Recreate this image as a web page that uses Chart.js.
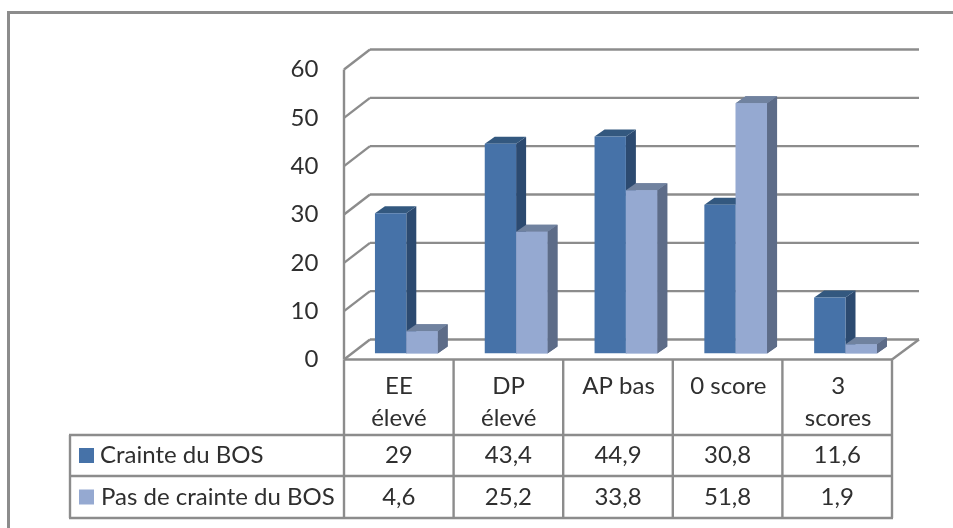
<!DOCTYPE html>
<html><head><meta charset="utf-8">
<style>html,body{margin:0;padding:0;background:#fff}canvas{display:block}</style>
<script src="https://cdn.jsdelivr.net/npm/chart.js@4"></script>
</head><body>
<canvas id="c" width="953" height="528"></canvas>
<script>
const categories = [["EE","élevé"],["DP","élevé"],["AP bas"],["0 score"],["3","scores"]];
const crainte = [29,43.4,44.9,30.8,11.6];
const pasCrainte = [4.6,25.2,33.8,51.8,1.9];
const seriesNames = ["Crainte du BOS","Pas de crainte du BOS"];
const yTicks = [0,10,20,30,40,50,60];

const FONT = "Lato, 'Open Sans', sans-serif";
const TEXT = "#2f2f2f", LINE = "#8c8c8c";
const skin = [
  {front:"#4672a8", top:"#33587f", side:"#2c4a70"},
  {front:"#95a9d1", top:"#70829f", side:"#5d6c88"}
];
const fmt = v => String(v).replace(".", ",");
const DX = 7.4, FRONT_DY = 6, BACK_DX = 26, BACK_DY = -20, DEPTH_X = 10, DEPTH_Y = -7;

function seg(ctx,x1,y1,x2,y2){ctx.beginPath();ctx.moveTo(x1,y1);ctx.lineTo(x2,y2);ctx.stroke();}
function poly(ctx,pts,c){ctx.fillStyle=c;ctx.beginPath();pts.forEach((p,i)=>i?ctx.lineTo(p[0],p[1]):ctx.moveTo(p[0],p[1]));ctx.closePath();ctx.fill();}
function paintDepth(ctx,meta,s){
  meta.data.forEach(b=>{
    const l=b.x-b.width/2, r=b.x+b.width/2, t=b.y, B=b.base;
    poly(ctx,[[r,t],[r+DEPTH_X,t+DEPTH_Y],[r+DEPTH_X,B+DEPTH_Y],[r,B]],s.side);
    poly(ctx,[[l,t],[l+DEPTH_X,t+DEPTH_Y],[r+DEPTH_X,t+DEPTH_Y],[r,t]],s.top);
  });
}

const scene = {
  id:"scene",
  beforeDatasetsDraw(chart){
    const {ctx,scales:{y}} = chart;
    const L = chart.chartArea.left-DX, R = chart.chartArea.right-DX-1;
    ctx.save();ctx.strokeStyle=LINE;ctx.lineWidth=2.4;
    yTicks.forEach(v=>{
      const f = y.getPixelForValue(v)+FRONT_DY;
      seg(ctx,L,f,L+BACK_DX,f+BACK_DY);
      seg(ctx,L+BACK_DX,f+BACK_DY,R+BACK_DX+1,f+BACK_DY);
    });
    const f0 = y.getPixelForValue(0)+FRONT_DY;
    seg(ctx,L,y.getPixelForValue(60)+FRONT_DY,L,f0);
    seg(ctx,R,f0,R+BACK_DX+1,f0+BACK_DY);
    ctx.restore();
  },
  beforeDatasetDraw(chart,args){
    chart.ctx.save();
    paintDepth(chart.ctx,args.meta,skin[args.index]);
    chart.ctx.restore();
  },
  afterDatasetsDraw(chart){
    // the second series stands in front of the first one's side faces
    const meta = chart.getDatasetMeta(1), ctx = chart.ctx;
    ctx.save();
    paintDepth(ctx,meta,skin[1]);
    meta.data.forEach(b=>b.draw(ctx));
    ctx.restore();
  },
  afterDraw(chart){
    const {ctx,scales:{y}} = chart;
    const L = chart.chartArea.left-DX, R = chart.chartArea.right-DX-1;
    const top = y.getPixelForValue(0)+FRONT_DY, r1=435, r2=476, r3=518, tl=70;
    const cw = (R-L)/categories.length;
    ctx.save();
    ctx.strokeStyle=LINE;
    // outer frame: top and left only
    ctx.lineWidth=3;
    seg(ctx,7,12.5,953,12.5); seg(ctx,8.5,12,8.5,528);
    ctx.lineWidth=2.4;
    // table grid
    seg(ctx,L,top,R,top);
    for(let i=0;i<=categories.length;i++) seg(ctx,L+i*cw,top,L+i*cw,r3);
    [r1,r2,r3].forEach(v=>seg(ctx,tl-1,v,R+1,v));
    seg(ctx,tl,r1,tl,r3);
    // legend keys and names
    ctx.font="24px "+FONT;ctx.textBaseline="middle";
    const rows=[[crainte,r1,r2],[pasCrainte,r2,r3]];
    rows.forEach((row,k)=>{
      const cy=(row[1]+row[2])/2;
      ctx.fillStyle=skin[k].front;
      ctx.fillRect(79,cy-7.5,15,15);
      ctx.fillStyle=TEXT;ctx.textAlign="left";
      ctx.fillText(seriesNames[k],k?101:100,cy);
      ctx.textAlign="center";
      row[0].forEach((v,i)=>ctx.fillText(fmt(v),L+(i+.5)*cw,cy));
    });
    ctx.restore();
  }
};

new Chart(document.getElementById("c"),{
  type:"bar",
  data:{labels:categories,datasets:[
    {label:seriesNames[0],data:crainte,backgroundColor:skin[0].front,categoryPercentage:0.571,barPercentage:1,borderWidth:0},
    {label:seriesNames[1],data:pasCrainte,backgroundColor:skin[1].front,categoryPercentage:0.571,barPercentage:1,borderWidth:0}
  ]},
  plugins:[scene],
  options:{
    responsive:false,animation:false,devicePixelRatio:1,
    layout:{padding:{top:63.5,right:52.6,left:0,bottom:0}},
    plugins:{legend:{display:false},tooltip:{enabled:false},title:{display:false}},
    scales:{
      x:{
        grid:{display:false,drawTicks:false},border:{display:false},
        afterFit(s){s.height=174.5;},
        ticks:{color:TEXT,font:{family:FONT,size:24,lineHeight:1.33},padding:17,labelOffset:-DX,maxRotation:0,autoSkip:false}
      },
      y:{
        min:0,max:60,
        grid:{display:false,drawTicks:false},border:{display:false},
        afterFit(s){s.width=351.4;},
        ticks:{color:TEXT,font:{family:FONT,size:24},stepSize:10,padding:33,labelOffset:FRONT_DY}
      }
    }
  }
});
</script>
</body></html>
